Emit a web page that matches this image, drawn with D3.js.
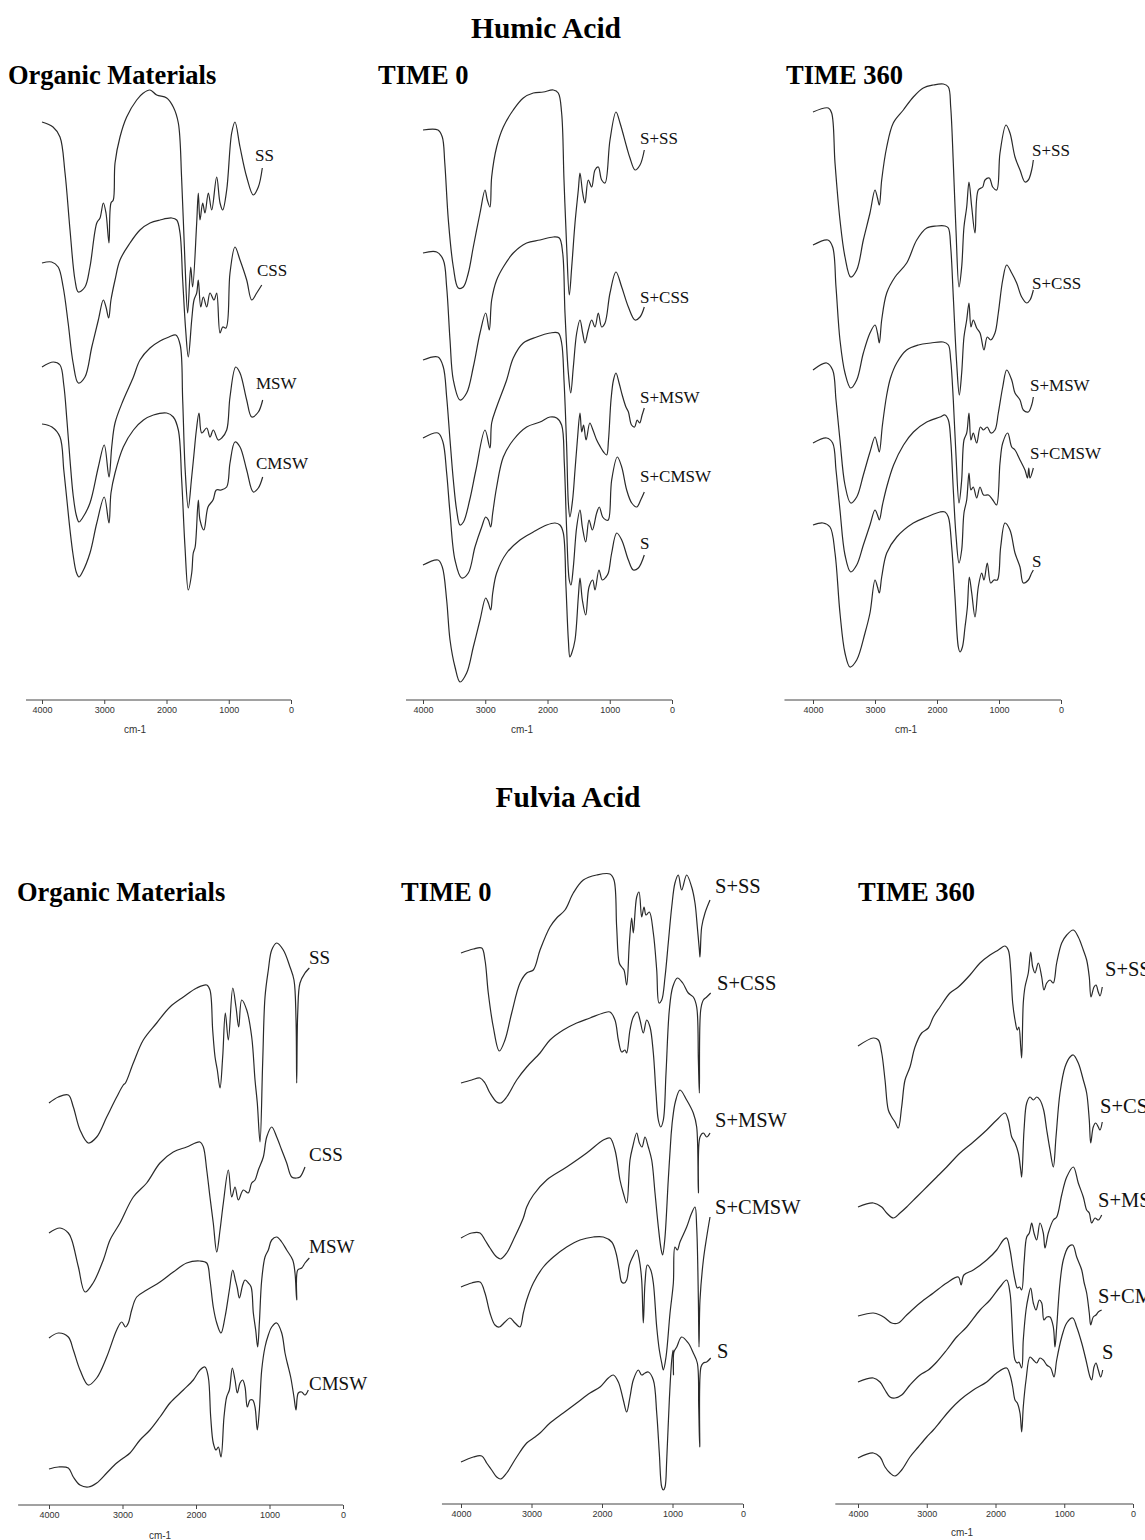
<!DOCTYPE html>
<html><head><meta charset="utf-8">
<script src="https://cdn.jsdelivr.net/npm/d3@7"></script>
<style>
body{margin:0;background:#fff;}
svg{display:block;}
.ttl{font-family:"Liberation Serif","Times New Roman",serif;font-weight:bold;fill:#000;}
.lbl{font-family:"Liberation Serif","Times New Roman",serif;fill:#111;}
.ax text{font-family:"Liberation Sans",Arial,sans-serif;font-size:9px;fill:#333;}
.ax line,.ax path{stroke:#444;}
.unit{font-family:"Liberation Sans",Arial,sans-serif;font-size:10px;fill:#333;}
</style></head>
<body><svg id="c" width="1145" height="1540"></svg>
<script>
// ---------- DATA: wavenumber (cm-1) vs stacked transmittance (arbitrary units) ----------
const tickValues = [4000, 3000, 2000, 1000, 0];
const sectionTitles = ["Humic Acid", "Fulvia Acid"];
const panelTitles = ["Organic Materials", "TIME 0", "TIME 360"];
const omNames = ["SS", "CSS", "MSW", "CMSW"];
const soilNames = ["S+SS", "S+CSS", "S+MSW", "S+CMSW", "S"];

// Humic acid – organic materials
const haOM_SS = [[4000,578],[3823,573],[3711,563],[3630,527],[3550,470],[3470,420],[3417,408],[3310,413],[3230,433],[3120,477],[3068,482],[3015,497],[2972,487],[2924,457],[2892,497],[2855,500],[2827,537],[2747,563],[2640,583],[2479,600],[2372,607],[2265,610],[2157,605],[1997,602],[1891,593],[1810,577],[1756,520],[1703,437],[1660,387],[1611,433],[1580,413],[1515,477],[1489,507],[1462,480],[1419,497],[1382,487],[1328,507],[1274,490],[1194,523],[1140,497],[1097,490],[1033,510],[953,567],[900,578],[819,553],[712,523],[606,505],[525,513],[461,532]];
const haOM_CSS = [[4000,437],[3845,438],[3740,433],[3660,413],[3580,377],[3500,337],[3417,317],[3310,323],[3200,353],[3095,380],[3015,400],[2972,393],[2929,382],[2892,400],[2827,420],[2747,440],[2586,457],[2426,470],[2265,477],[2104,480],[1916,482],[1836,480],[1783,467],[1740,420],[1692,370],[1650,343],[1595,380],[1558,400],[1515,407],[1489,420],[1450,393],[1409,403],[1354,393],[1301,407],[1237,400],[1194,407],[1140,367],[1097,373],[1044,372],[980,427],[900,453],[819,440],[712,420],[631,400],[551,407],[470,415]];
const haOM_MSW = [[4000,333],[3818,338],[3711,335],[3650,315],[3600,280],[3550,240],[3500,205],[3450,185],[3406,178],[3350,182],[3229,197],[3095,233],[3000,255],[2924,223],[2880,253],[2827,277],[2694,300],[2538,322],[2426,340],[2265,352],[2104,359],[1960,363],[1850,365],[1780,355],[1740,300],[1700,230],[1650,192],[1600,220],[1560,245],[1520,270],[1478,287],[1434,267],[1354,272],[1301,263],[1248,270],[1168,260],[1113,262],[1033,270],[980,303],[888,333],[819,327],[712,300],[631,283],[525,288],[455,300]];
const haOM_CMSW = [[4000,276],[3840,273],[3711,263],[3650,230],[3600,200],[3550,170],[3500,145],[3450,128],[3406,123],[3350,128],[3229,147],[3120,177],[3000,203],[2924,177],[2892,207],[2827,227],[2694,253],[2531,270],[2370,280],[2210,285],[1997,287],[1891,283],[1810,270],[1756,220],[1703,153],[1650,110],[1595,127],[1570,147],[1540,153],[1489,200],[1462,180],[1400,170],[1333,193],[1253,200],[1200,210],[1120,210],[1033,213],[980,237],[900,258],[819,253],[712,230],[606,208],[525,212],[455,223]];

// Humic acid – time 0
const haT0_SSS = [[4000,570],[3759,570],[3690,563],[3650,537],[3593,480],[3513,433],[3433,412],[3353,413],[3272,427],[3192,453],[3084,487],[3004,510],[2967,500],[2924,493],[2897,523],[2817,553],[2710,573],[2550,590],[2389,602],[2228,607],[2067,608],[1907,610],[1827,607],[1773,587],[1735,520],[1692,453],[1650,405],[1611,433],[1558,477],[1505,510],[1478,527],[1435,507],[1398,497],[1345,520],[1290,513],[1237,530],[1184,533],[1130,520],[1076,517],[996,560],[900,588],[835,577],[728,553],[675,542],[594,530],[514,535],[445,550]];
const haT0_SCSS = [[4000,447],[3780,448],[3674,440],[3620,413],[3566,360],[3513,320],[3406,300],[3299,307],[3192,333],[3084,367],[2993,387],[2935,370],[2897,400],[2817,420],[2710,433],[2550,447],[2335,457],[2120,460],[1907,463],[1810,462],[1756,447],[1719,387],[1665,327],[1627,307],[1585,333],[1531,367],[1478,380],[1435,367],[1398,357],[1345,370],[1290,380],[1237,373],[1184,387],[1130,373],[1076,377],[996,407],[900,428],[808,413],[701,393],[594,380],[514,383],[445,393]];
const haT0_SMSW = [[4000,340],[3759,343],[3674,333],[3620,303],[3566,260],[3513,220],[3460,190],[3406,175],[3350,178],[3250,200],[3150,230],[3004,270],[2924,252],[2897,277],[2817,293],[2656,320],[2550,342],[2389,357],[2174,363],[1960,367],[1827,367],[1773,357],[1735,320],[1692,253],[1665,197],[1640,183],[1597,200],[1558,230],[1520,260],[1478,287],[1450,268],[1420,275],[1380,260],[1320,277],[1270,270],[1210,260],[1150,253],[1100,248],[1050,245],[1020,260],[980,300],[940,320],[900,327],[850,317],[800,305],[740,293],[700,288],[650,275],[600,273],[560,280],[520,277],[480,285],[445,292]];
const haT0_SCMSW = [[4000,262],[3759,267],[3680,258],[3620,227],[3566,187],[3486,140],[3379,122],[3272,127],[3165,153],[3057,173],[2993,183],[2950,180],[2912,173],[2880,187],[2817,213],[2710,243],[2550,260],[2335,273],[2120,278],[1960,283],[1852,282],[1773,275],[1730,237],[1692,170],[1650,120],[1623,115],[1585,133],[1531,173],[1478,190],[1440,173],[1386,158],[1333,180],[1280,170],[1210,187],[1168,193],[1114,183],[1060,180],[1023,180],[969,220],[878,243],[808,233],[728,210],[647,197],[567,193],[503,200],[445,208]];
const haT0_S = [[4000,135],[3759,140],[3690,133],[3620,100],[3566,60],[3486,33],[3406,18],[3299,27],[3192,53],[3084,80],[2993,102],[2950,97],[2912,90],[2880,107],[2817,127],[2656,147],[2442,160],[2228,168],[2013,175],[1880,177],[1800,175],[1746,167],[1703,113],[1665,60],[1640,43],[1610,47],[1558,60],[1505,103],[1478,122],[1440,100],[1386,85],[1333,113],[1274,120],[1237,110],[1173,130],[1120,120],[1060,123],[1023,127],[969,147],[888,167],[808,160],[701,140],[621,130],[541,132],[445,145]];

// Humic acid – time 360
const haT360_SSS = [[4000,588],[3753,592],[3699,587],[3645,537],[3565,480],[3484,443],[3392,423],[3295,430],[3188,460],[3081,487],[3000,510],[2960,502],[2930,495],[2892,520],[2811,553],[2705,577],[2543,590],[2382,603],[2221,612],[2060,615],[1898,616],[1817,613],[1779,593],[1737,537],[1694,470],[1645,413],[1602,433],[1565,473],[1521,493],[1484,518],[1440,493],[1387,467],[1334,510],[1263,513],[1226,520],[1156,522],[1102,513],[1037,510],[984,547],[887,575],[823,567],[742,543],[661,530],[581,518],[527,520],[473,530],[446,540]];
const haT360_SCSS = [[4000,455],[3760,460],[3683,453],[3629,413],[3565,360],[3484,327],[3392,312],[3295,320],[3188,347],[3081,367],[3000,375],[2960,367],[2930,357],[2892,380],[2811,407],[2677,423],[2489,437],[2327,460],[2166,472],[2005,474],[1871,474],[1817,472],[1779,453],[1737,403],[1683,337],[1640,305],[1602,327],[1565,363],[1521,380],[1484,397],[1452,373],[1415,380],[1360,372],[1306,367],[1242,350],[1189,363],[1134,360],[1065,367],[1011,387],[940,420],[876,435],[795,427],[715,417],[634,403],[553,397],[500,400],[446,410]];
const haT360_SMSW = [[4000,330],[3780,337],[3683,330],[3629,300],[3565,260],[3484,215],[3392,197],[3295,203],[3188,225],[3081,248],[3000,263],[2960,255],[2930,248],[2880,275],[2811,305],[2750,322],[2650,337],[2490,350],[2300,355],[2100,357],[1900,358],[1817,355],[1779,340],[1737,300],[1694,245],[1645,197],[1602,220],[1565,260],[1521,267],[1484,287],[1452,260],[1415,267],[1360,257],[1300,273],[1250,270],[1190,273],[1130,267],[1065,270],[1011,287],[940,313],[876,330],[795,320],[742,307],[661,300],[608,290],[527,288],[473,295],[446,303]];
const haT360_SCMSW = [[4000,257],[3780,262],[3683,257],[3629,230],[3565,190],[3484,145],[3392,128],[3295,135],[3188,155],[3081,175],[3000,190],[2960,185],[2930,180],[2880,195],[2811,213],[2700,235],[2540,255],[2380,268],[2166,278],[1952,283],[1871,285],[1817,280],[1779,260],[1737,210],[1694,165],[1645,137],[1602,150],[1565,187],[1521,200],[1484,227],[1452,210],[1415,213],[1360,202],[1306,213],[1250,205],[1170,205],[1100,200],[1040,195],[984,237],[940,257],[860,267],[795,253],[742,250],[661,240],[581,230],[540,222],[520,232],[500,222],[446,232]];
const haT360_S = [[4000,175],[3840,177],[3726,173],[3645,147],[3565,87],[3484,47],[3403,33],[3295,40],[3161,67],[3081,87],[3000,120],[2960,113],[2930,107],[2892,123],[2811,147],[2650,163],[2382,177],[2166,183],[1952,188],[1871,188],[1817,183],[1763,153],[1710,103],[1656,53],[1629,48],[1590,53],[1548,73],[1510,93],[1479,123],[1440,107],[1387,83],[1334,113],[1279,127],[1242,120],[1189,137],[1134,117],[1081,120],[1027,120],[973,153],[903,177],[823,170],[742,147],[661,133],[608,117],[527,120],[473,127],[446,130]];

// Fulvic acid – organic materials
const faOM_SS = [[4000,397],[3873,403],[3737,405],[3669,393],[3578,370],[3465,357],[3351,363],[3215,383],[3079,403],[2989,415],[2960,417],[2853,437],[2717,460],[2535,477],[2354,493],[2172,503],[1990,512],[1854,515],[1810,510],[1773,470],[1741,443],[1710,430],[1673,412],[1637,443],[1601,487],[1560,460],[1500,512],[1456,493],[1419,473],[1378,500],[1310,490],[1242,463],[1197,420],[1166,397],[1129,358],[1093,437],[1061,503],[1016,530],[970,550],[902,557],[812,550],[721,533],[667,520],[639,480],[630,417],[616,487],[585,517],[517,527],[458,532]];
const faOM_CSS = [[4000,267],[3850,272],[3737,267],[3690,260],[3600,233],[3510,208],[3400,217],[3261,240],[3170,260],[3034,277],[2853,303],[2671,317],[2490,337],[2309,348],[2127,353],[1946,358],[1900,353],[1854,330],[1810,303],[1765,277],[1718,248],[1673,270],[1628,297],[1560,330],[1514,303],[1469,313],[1424,300],[1356,310],[1290,307],[1242,317],[1197,320],[1152,330],[1084,343],[1038,363],[970,373],[902,363],[834,350],[766,337],[698,323],[630,322],[585,323],[517,333]];
const faOM_MSW = [[4000,162],[3873,167],[3737,163],[3669,150],[3578,130],[3465,115],[3351,122],[3215,143],[3079,170],[3011,178],[2960,173],[2920,177],[2875,190],[2807,203],[2671,210],[2490,218],[2309,228],[2127,237],[1946,239],[1854,237],[1810,220],[1765,193],[1718,177],[1660,167],[1605,183],[1546,210],[1500,230],[1465,220],[1438,212],[1410,202],[1365,215],[1333,220],[1288,217],[1250,213],[1220,187],[1188,170],[1161,153],[1138,177],[1106,220],[1061,243],[1016,250],[970,260],[902,263],[834,258],[766,250],[684,240],[653,227],[630,200],[616,230],[562,232],[517,237],[458,242]];
const faOM_CMSW = [[4000,31],[3873,33],[3737,32],[3669,23],[3578,15],[3465,13],[3351,17],[3215,27],[3079,37],[2989,42],[2898,47],[2762,60],[2626,70],[2490,83],[2354,97],[2172,110],[2037,120],[1946,130],[1878,133],[1833,123],[1800,83],[1765,57],[1728,50],[1696,53],[1660,43],[1619,83],[1583,103],[1546,110],[1506,132],[1469,120],[1438,107],[1401,117],[1365,120],[1333,113],[1302,93],[1265,100],[1229,100],[1197,93],[1166,70],[1138,90],[1106,130],[1061,153],[1016,165],[970,173],[902,177],[834,167],[789,147],[758,137],[712,123],[667,103],[639,90],[608,107],[562,108],[517,105],[472,110]];

// Fulvic acid – time 0
const faT0_SSS = [[4000,547],[3825,551],[3706,552],[3660,540],[3613,507],[3542,473],[3457,449],[3376,460],[3281,487],[3163,517],[3068,527],[2974,530],[2879,550],[2738,573],[2643,582],[2525,590],[2407,607],[2265,620],[2076,625],[1887,626],[1830,620],[1792,573],[1755,537],[1721,533],[1688,530],[1650,515],[1612,557],[1579,582],[1556,567],[1508,603],[1475,608],[1437,583],[1404,593],[1376,585],[1329,588],[1272,567],[1224,530],[1191,497],[1153,500],[1106,523],[1060,557],[1011,593],[965,617],[918,625],[870,610],[799,625],[728,613],[681,597],[648,573],[619,550],[610,543],[586,573],[539,587],[468,600]];
const faT0_SCSS = [[4000,417],[3848,420],[3730,422],[3660,417],[3589,407],[3494,398],[3437,397],[3352,403],[3210,420],[3068,433],[2879,447],[2738,460],[2549,470],[2359,477],[2170,482],[1981,487],[1887,488],[1816,480],[1768,460],[1721,448],[1674,450],[1650,447],[1603,470],[1556,483],[1499,488],[1461,480],[1414,467],[1366,480],[1319,473],[1272,447],[1234,407],[1201,380],[1167,373],[1130,380],[1092,427],[1045,490],[997,513],[931,522],[855,517],[776,507],[705,503],[657,493],[633,440],[619,407],[600,490],[562,500],[515,503],[458,507]];
const faT0_SMSW = [[4000,262],[3848,267],[3730,267],[3660,260],[3589,252],[3494,243],[3437,241],[3352,247],[3258,260],[3116,282],[3068,293],[2974,305],[2785,320],[2501,333],[2217,347],[1981,360],[1887,362],[1816,350],[1745,320],[1698,307],[1650,297],[1603,340],[1565,353],[1508,367],[1470,357],[1433,353],[1390,363],[1343,353],[1295,340],[1248,307],[1201,273],[1160,250],[1140,245],[1110,260],[1060,320],[1020,365],[1011,372],[1000,380],[960,398],[894,410],[799,400],[705,387],[657,373],[633,307],[610,363],[562,367],[515,363],[468,367]];
const faT0_SCMSW = [[4000,213],[3848,217],[3730,218],[3660,207],[3589,187],[3518,175],[3457,173],[3376,178],[3305,182],[3234,177],[3163,173],[3116,187],[3068,200],[2974,217],[2832,233],[2690,243],[2501,253],[2312,260],[2123,263],[1981,263],[1862,258],[1801,247],[1755,230],[1721,218],[1684,217],[1650,220],[1612,235],[1565,243],[1508,250],[1470,240],[1437,220],[1414,177],[1390,217],[1357,235],[1309,230],[1272,217],[1224,173],[1187,150],[1153,137],[1130,130],[1092,143],[1035,187],[988,217],[965,253],[931,250],[894,258],[799,273],[728,287],[681,293],[657,273],[633,200],[624,153],[610,200],[562,240],[515,263],[468,283]];
const faT0_S = [[4000,38],[3825,43],[3706,44],[3636,37],[3565,30],[3494,23],[3437,21],[3352,27],[3210,43],[3068,57],[2950,63],[2879,67],[2738,77],[2549,87],[2359,97],[2170,107],[2028,113],[1910,122],[1839,125],[1768,118],[1698,100],[1650,88],[1603,103],[1556,120],[1485,130],[1437,125],[1390,127],[1343,128],[1272,120],[1224,87],[1187,47],[1153,13],[1130,10],[1106,13],[1082,40],[1045,100],[1011,140],[992,150],[986,125],[980,148],[940,153],[870,163],[776,157],[705,147],[648,137],[628,93],[614,53],[596,133],[562,137],[515,138],[458,142]];

// Fulvic acid – time 360
const faT360_SSS = [[4000,454],[3777,462],[3704,460],[3655,447],[3607,420],[3559,390],[3510,383],[3462,378],[3414,372],[3365,393],[3316,420],[3244,433],[3171,453],[3074,467],[2977,472],[2904,483],[2807,493],[2662,507],[2541,513],[2371,525],[2225,537],[2080,545],[1959,550],[1862,554],[1814,550],[1779,530],[1750,497],[1716,480],[1683,470],[1660,473],[1633,453],[1619,442],[1596,497],[1571,513],[1523,527],[1488,548],[1459,533],[1425,527],[1377,537],[1328,523],[1295,510],[1255,517],[1207,520],[1160,517],[1110,537],[1037,557],[964,565],[868,570],[796,563],[723,550],[674,540],[636,523],[611,503],[567,513],[538,515],[505,508],[480,504],[447,513]];
const faT360_SCSS = [[4000,293],[3777,297],[3655,293],[3583,287],[3486,282],[3389,287],[3292,293],[3147,303],[3001,313],[2855,323],[2710,333],[2516,347],[2323,358],[2128,370],[1983,380],[1862,387],[1814,380],[1764,363],[1716,357],[1668,347],[1633,330],[1619,323],[1585,370],[1546,397],[1498,403],[1450,400],[1400,403],[1353,400],[1300,390],[1255,370],[1207,350],[1159,333],[1120,363],[1062,407],[989,433],[916,443],[868,445],[796,437],[723,420],[674,407],[636,380],[615,357],[578,373],[543,377],[505,373],[480,370],[447,378]];
const faT360_SMSW = [[4000,184],[3777,187],[3680,185],[3607,182],[3510,177],[3414,177],[3292,185],[3098,197],[2904,207],[2710,217],[2541,223],[2500,215],[2460,225],[2323,230],[2128,240],[1983,250],[1886,260],[1838,262],[1789,250],[1750,233],[1716,220],[1683,212],[1650,213],[1619,210],[1585,237],[1546,263],[1508,267],[1474,277],[1440,267],[1401,260],[1353,277],[1305,267],[1280,252],[1232,267],[1159,280],[1110,283],[1037,305],[964,323],[868,333],[796,317],[723,303],[674,290],[636,287],[601,277],[553,282],[505,280],[456,285]];
const faT360_SCMSW = [[4000,118],[3777,122],[3680,118],[3607,110],[3535,103],[3462,102],[3365,105],[3244,115],[3098,125],[2977,130],[2855,138],[2710,150],[2565,163],[2419,173],[2225,190],[2080,200],[1935,213],[1838,220],[1789,207],[1764,183],[1741,153],[1716,140],[1683,137],[1660,138],[1619,132],[1596,160],[1556,190],[1523,203],[1488,212],[1450,197],[1411,190],[1363,200],[1328,197],[1295,180],[1255,183],[1207,183],[1159,173],[1135,153],[1110,173],[1062,217],[1014,240],[941,253],[877,255],[819,243],[746,230],[713,218],[674,207],[636,187],[615,175],[578,183],[538,185],[505,188],[456,190]];
const faT360_S = [[4000,42],[3777,47],[3680,43],[3607,33],[3535,27],[3462,24],[3365,30],[3244,43],[3123,53],[3001,63],[2904,70],[2807,78],[2662,90],[2516,100],[2323,110],[2128,118],[1983,127],[1838,132],[1789,125],[1750,113],[1716,100],[1683,97],[1644,87],[1619,68],[1596,93],[1556,120],[1498,143],[1450,140],[1401,137],[1353,142],[1305,140],[1255,135],[1197,132],[1149,123],[1110,140],[1037,163],[964,177],[877,182],[819,173],[746,157],[684,140],[625,123],[601,120],[567,133],[538,137],[505,130],[470,123],[441,130]];

// ---------- LAYOUT ----------
const svg = d3.select("#c");
const topY = d3.scaleLinear().domain([0, 620]).range([700, 80]);
const botY = d3.scaleLinear().domain([0, 640]).range([1500, 860]);

const layout = [
  {title: panelTitles[0], tx: 8, ty: 84, x4000: 42, x0: 291, axStart: 4257, axY: 700, y: topY, unit: [135, 733], fs: 17,
   series: [haOM_SS, haOM_CSS, haOM_MSW, haOM_CMSW], names: omNames,
   lab: [[255,161],[257,276],[256,389],[256,469]]},
  {title: panelTitles[1], tx: 378, ty: 84, x4000: 423, x0: 672, axStart: 4273, axY: 700, y: topY, unit: [522, 733], fs: 17,
   series: [haT0_SSS, haT0_SCSS, haT0_SMSW, haT0_SCMSW, haT0_S], names: soilNames,
   lab: [[640,144],[640,303],[640,403],[640,482],[640,549]]},
  {title: panelTitles[2], tx: 786, ty: 84, x4000: 813, x0: 1061, axStart: 4460, axY: 700, y: topY, unit: [906, 733], fs: 17,
   series: [haT360_SSS, haT360_SCSS, haT360_SMSW, haT360_SCMSW, haT360_S], names: soilNames,
   lab: [[1032,156],[1032,289],[1030,391],[1030,459],[1032,567]]},
  {title: panelTitles[0], tx: 17, ty: 901, x4000: 49, x0: 343, axStart: 4420, axY: 1505, y: botY, unit: [160, 1539], fs: 19,
   series: [faOM_SS, faOM_CSS, faOM_MSW, faOM_CMSW], names: omNames,
   lab: [[309,964],[309,1161],[309,1253],[309,1390]]},
  {title: panelTitles[1], tx: 401, ty: 901, x4000: 461, x0: 743, axStart: 4270, axY: 1504, y: botY, unit: null, fs: 20.5,
   series: [faT0_SSS, faT0_SCSS, faT0_SMSW, faT0_SCMSW, faT0_S], names: soilNames,
   lab: [[715,893],[717,990],[715,1127],[715,1214],[717,1358]]},
  {title: panelTitles[2], tx: 858, ty: 901, x4000: 858, x0: 1133, axStart: 4330, axY: 1504, y: botY, unit: [962, 1536], fs: 20.5,
   series: [faT360_SSS, faT360_SCSS, faT360_SMSW, faT360_SCMSW, faT360_S], names: soilNames,
   lab: [[1105,976],[1100,1113],[1098,1207],[1098,1303],[1102,1359]]}
];

// section titles
svg.append("text").attr("class","ttl").attr("x",546).attr("y",38).attr("text-anchor","middle")
  .style("font-size","29.5px").text(sectionTitles[0]);
svg.append("text").attr("class","ttl").attr("x",568).attr("y",807).attr("text-anchor","middle")
  .style("font-size","29.5px").text(sectionTitles[1]);

layout.forEach(p => {
  const x = d3.scaleLinear().domain([4000, 0]).range([p.x4000, p.x0]);
  const g = svg.append("g");
  g.append("text").attr("class","ttl").attr("x",p.tx).attr("y",p.ty).style("font-size","26.5px").text(p.title);

  // axis
  const ax = g.append("g").attr("class","ax").attr("transform",`translate(0,${p.axY})`)
    .call(d3.axisBottom(x).tickValues(tickValues).tickSize(4).tickPadding(3).tickFormat(d3.format("d")));
  ax.select(".domain").remove();
  ax.append("line").attr("x1", x(p.axStart)).attr("x2", x(0)).attr("y1",0).attr("y2",0)
    .attr("stroke","#444").attr("stroke-width",1);
  if (p.unit) g.append("text").attr("class","unit").attr("x",p.unit[0]).attr("y",p.unit[1])
    .attr("text-anchor","middle").text("cm-1");

  const line = d3.line().x(d => x(d[0])).y(d => p.y(d[1])).curve(d3.curveCatmullRom.alpha(0.5));
  p.series.forEach((s, i) => {
    g.append("path").attr("d", line(s)).attr("fill","none").attr("stroke","#2a2a2a")
      .attr("stroke-width",1.2).attr("stroke-linejoin","round");
    g.append("text").attr("class","lbl").attr("x",p.lab[i][0]).attr("y",p.lab[i][1])
      .style("font-size",p.fs+"px").text(p.names[i]);
  });
});
</script></body></html>
